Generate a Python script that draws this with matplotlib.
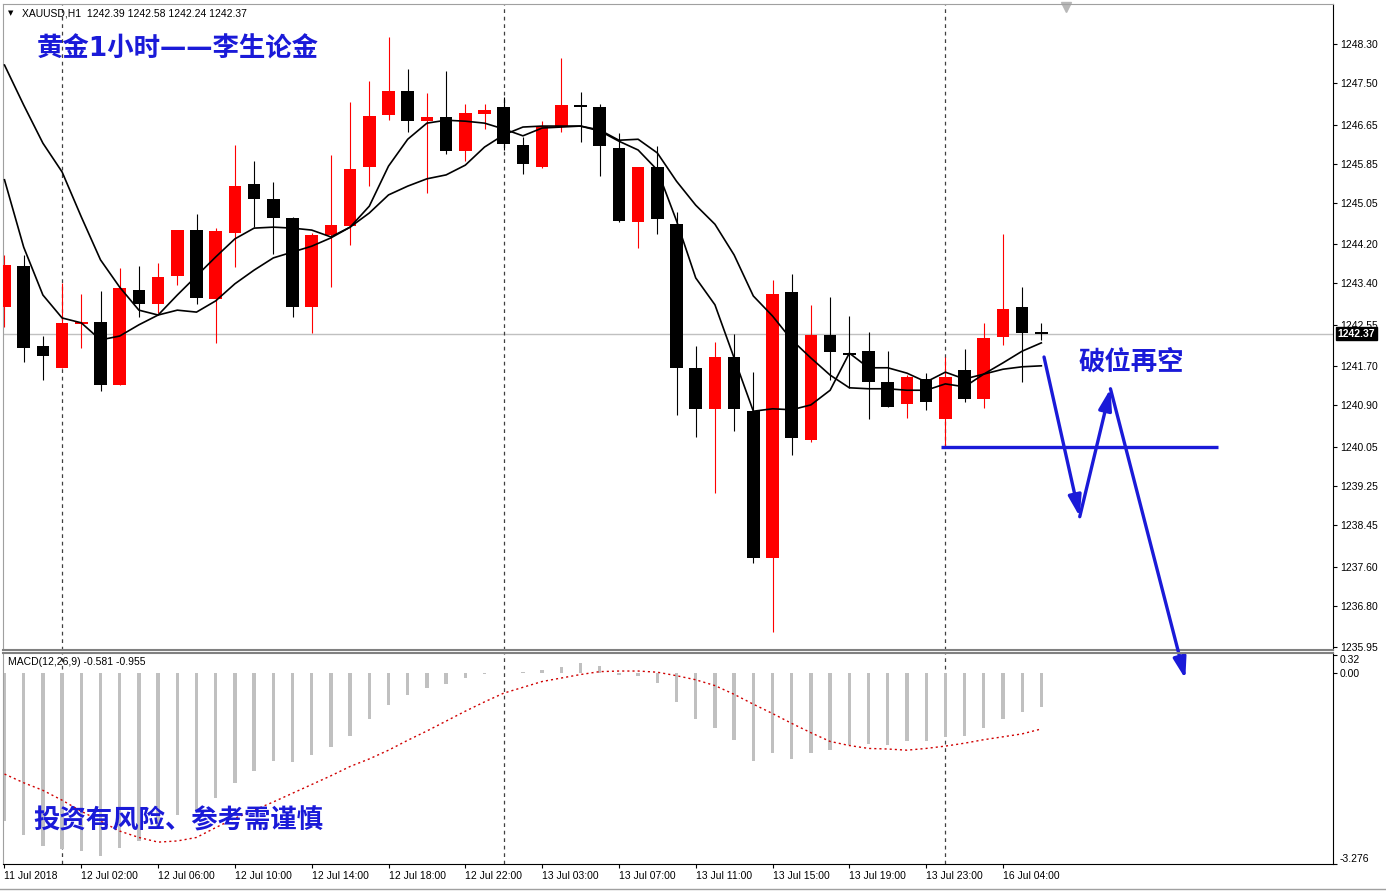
import matplotlib
matplotlib.use('Agg')
import matplotlib.pyplot as plt
import matplotlib.transforms as mtrans

W, H = 1386, 894

# H1 bars, 11 Jul 22:00 .. 16 Jul 06:00
opens = [1242.91, 1243.75, 1242.12, 1241.66, 1242.57, 1242.61, 1241.32, 1243.26, 1242.98, 1243.55,
         1244.49, 1243.08, 1244.43, 1245.43, 1245.13, 1244.74, 1242.91, 1244.39, 1244.57, 1245.78,
         1246.85, 1247.34, 1246.72, 1246.81, 1246.11, 1246.87, 1247.01, 1246.23, 1245.78, 1246.60,
         1247.05, 1247.01, 1246.17, 1244.65, 1245.78, 1244.61, 1241.66, 1240.83, 1241.89, 1240.78,
         1237.77, 1243.22, 1240.19, 1242.34, 1241.97, 1242.01, 1241.38, 1240.93, 1241.44, 1240.62,
         1241.62, 1241.03, 1242.30, 1242.91, 1242.39]
highs = [1243.98, 1243.98, 1242.32, 1243.41, 1243.18, 1243.24, 1243.71, 1243.75, 1243.82, 1244.49,
         1244.82, 1244.53, 1246.23, 1245.90, 1245.47, 1244.76, 1244.43, 1246.03, 1247.11, 1247.54,
         1248.44, 1247.79, 1247.30, 1247.75, 1247.07, 1247.07, 1247.21, 1246.40, 1246.72, 1248.01,
         1247.32, 1247.07, 1246.48, 1245.78, 1246.21, 1244.86, 1242.12, 1242.20, 1242.36, 1241.58,
         1243.47, 1243.59, 1242.95, 1243.12, 1242.73, 1242.40, 1242.01, 1241.52, 1241.56, 1241.89,
         1242.05, 1242.59, 1244.41, 1243.32, 1242.58]
lows = [1242.50, 1241.79, 1241.42, 1241.66, 1242.07, 1241.19, 1241.32, 1242.71, 1242.79, 1243.36,
        1242.98, 1242.18, 1243.73, 1244.55, 1244.00, 1242.71, 1242.38, 1243.32, 1244.18, 1245.39,
        1246.74, 1246.50, 1245.25, 1246.05, 1245.90, 1246.56, 1246.13, 1245.64, 1245.76, 1246.50,
        1246.29, 1245.60, 1244.65, 1244.12, 1244.41, 1240.70, 1240.25, 1239.10, 1240.37, 1237.67,
        1236.26, 1239.88, 1240.15, 1241.42, 1241.26, 1240.62, 1240.87, 1240.64, 1240.80, 1240.03,
        1240.97, 1240.85, 1242.14, 1241.38, 1242.24]
closes = [1243.77, 1242.07, 1241.91, 1242.59, 1242.61, 1241.32, 1243.30, 1242.98, 1243.53, 1244.49,
          1243.10, 1244.47, 1245.39, 1245.13, 1244.74, 1242.91, 1244.39, 1244.59, 1245.74, 1246.83,
          1247.34, 1246.72, 1246.81, 1246.11, 1246.89, 1246.95, 1246.25, 1245.84, 1246.62, 1247.05,
          1247.01, 1246.21, 1244.68, 1245.78, 1244.72, 1241.66, 1240.83, 1241.89, 1240.83, 1237.77,
          1243.18, 1240.23, 1242.34, 1241.99, 1241.93, 1241.38, 1240.87, 1241.48, 1240.97, 1241.48,
          1241.03, 1242.28, 1242.87, 1242.38, 1242.37]

# the two moving averages as drawn on the chart
ma_fast = [1245.52, 1244.14, 1243.16, 1242.69, 1242.59, 1242.24, 1242.32, 1242.55, 1242.75, 1243.16,
           1243.55, 1243.94, 1244.31, 1244.53, 1244.55, 1244.53, 1244.49, 1244.35, 1244.55, 1244.98,
           1245.80, 1246.35, 1246.68, 1246.74, 1246.72, 1246.68, 1246.56, 1246.42, 1246.58, 1246.60,
           1246.62, 1246.52, 1246.31, 1246.13, 1245.72, 1244.68, 1243.51, 1242.96, 1241.87, 1240.78,
           1240.83, 1240.81, 1240.91, 1241.21, 1241.97, 1241.67, 1241.67, 1241.56, 1241.38, 1241.58,
           1241.44, 1241.54, 1241.77, 1242.01, 1242.18]
ma_slow = [1247.87, 1247.05, 1246.27, 1245.68, 1244.76, 1243.88, 1243.32, 1242.85, 1242.75, 1242.85,
           1242.81, 1243.04, 1243.39, 1243.67, 1243.92, 1244.04, 1244.16, 1244.33, 1244.55, 1244.84,
           1245.21, 1245.39, 1245.54, 1245.62, 1245.82, 1246.19, 1246.44, 1246.60, 1246.62, 1246.62,
           1246.62, 1246.54, 1246.33, 1246.35, 1246.07, 1245.49, 1245.00, 1244.61, 1243.98, 1243.14,
           1242.73, 1242.24, 1241.87, 1241.52, 1241.26, 1241.24, 1241.24, 1241.21, 1241.21, 1241.34,
           1241.28, 1241.54, 1241.64, 1241.69, 1241.71]

macd_hist = [-2.53, -2.78, -2.97, -3.02, -3.05, -3.14, -3.00, -2.88, -2.65, -2.44,
             -2.35, -2.15, -1.89, -1.68, -1.51, -1.53, -1.41, -1.27, -1.07, -0.79,
             -0.55, -0.37, -0.25, -0.18, -0.08, -0.01, 0.00, 0.02, 0.05, 0.11,
             0.18, 0.13, -0.03, -0.05, -0.16, -0.49, -0.79, -0.94, -1.14, -1.51,
             -1.37, -1.47, -1.37, -1.31, -1.23, -1.21, -1.23, -1.17, -1.17, -1.10,
             -1.07, -0.94, -0.78, -0.67, -0.581]
macd_signal = [-1.73, -1.88, -2.01, -2.18, -2.37, -2.54, -2.71, -2.82, -2.90, -2.88,
               -2.82, -2.65, -2.49, -2.35, -2.21, -2.06, -1.91, -1.76, -1.60, -1.47,
               -1.32, -1.15, -0.99, -0.82, -0.65, -0.49, -0.34, -0.24, -0.14, -0.08,
               -0.02, 0.03, 0.04, 0.04, 0.02, -0.04, -0.11, -0.21, -0.36, -0.53,
               -0.69, -0.86, -1.02, -1.17, -1.24, -1.29, -1.30, -1.32, -1.29, -1.25,
               -1.20, -1.14, -1.09, -1.04, -0.955]

time_idx = [0, 4, 8, 12, 16, 20, 24, 28, 32, 36, 40, 44, 48, 52]
time_labels = ['11 Jul 2018', '12 Jul 02:00', '12 Jul 06:00', '12 Jul 10:00', '12 Jul 14:00',
               '12 Jul 18:00', '12 Jul 22:00', '13 Jul 03:00', '13 Jul 07:00', '13 Jul 11:00',
               '13 Jul 15:00', '13 Jul 19:00', '13 Jul 23:00', '16 Jul 04:00']
day_sep_idx = [3, 26, 49]
price_ticks = [1248.30, 1247.50, 1246.65, 1245.85, 1245.05, 1244.20, 1243.40, 1242.55,
               1241.70, 1240.90, 1240.05, 1239.25, 1238.45, 1237.60, 1236.80, 1235.95]
macd_ticks = [0.32, 0.00, -3.276]
last_price = 1242.37

# hand drawn analysis: support line and zig-zag arrow path
support_level = 1240.05
support_span = (48.8, 63.2)
path_x = [54.14, 56.0, 57.6, 61.5]
path_y = [1241.89, 1238.62, 1241.24, 1235.30]

blue = '#1a1ad8'
axfont = 'Liberation Sans'
cjk = ['Noto Sans CJK SC', 'DejaVu Sans']
cjk_title = ['DejaVu Sans', 'Noto Sans CJK SC']

fig = plt.figure(figsize=(W / 100, H / 100), dpi=100)
ax = fig.add_axes([3 / W, 1 - 650 / H, 1330 / W, 646 / H])
ax2 = fig.add_axes([3 / W, 1 - 864 / H, 1330 / W, 211 / H])
ax2.patch.set_alpha(0)

n = len(opens)
xs = list(range(n))

# candles
for i in xs:
    o, h, l, c = opens[i], highs[i], lows[i], closes[i]
    col = '#ff0000' if c > o else 'black'
    ax.vlines(i, l, h, color=col, lw=0.8, zorder=2)
    body = max(abs(c - o), 0.03)
    ax.bar(i, body, bottom=min(o, c), width=0.66, color=col, lw=0, zorder=3)

ax.plot(xs, ma_fast, color='black', lw=1.2, zorder=4)
ax.plot(xs, ma_slow, color='black', lw=1.2, zorder=4)
ax.axhline(last_price, color='#c0c0c0', lw=1, zorder=1)

for d in day_sep_idx:
    ax.axvline(d, color='#404040', ls=(0, (3, 3)), lw=0.9, zorder=1)
    ax2.axvline(d, color='#404040', ls=(0, (3, 3)), lw=0.9, zorder=1)

ax.set_xlim(-0.078, 69.19)
ax.set_ylim(1235.89, 1249.12)
ax.set_xticks([])
ax.yaxis.tick_right()
ax.set_yticks(price_ticks)
ax.set_yticklabels(['%.2f' % t for t in price_ticks], fontfamily=axfont, fontsize=7.5)
ax.tick_params(axis='y', direction='out', length=3, pad=2, colors='black')

# current price tag
tr = mtrans.blended_transform_factory(ax.transAxes, ax.transData)
ax.text(1.0035, last_price, '%.2f' % last_price, transform=tr, color='white', fontsize=7.5,
        fontfamily=axfont, fontweight='bold', va='center', ha='left', zorder=10,
        bbox=dict(boxstyle='square,pad=0.15', fc='black', ec='black'))

# shift marker
ax.plot([(1066 - 3) / 1330], [0.995], marker='v', color='#b8b8b8', ms=7,
        transform=ax.transAxes, clip_on=False)

# support line and arrows
ax.hlines(support_level, support_span[0], support_span[1], color=blue, lw=2.4, zorder=6)
for k in range(len(path_x) - 1):
    ann = ax.annotate('', xy=(path_x[k + 1], path_y[k + 1]), xytext=(path_x[k], path_y[k]),
                      arrowprops=dict(arrowstyle='-|>,head_length=0.9,head_width=0.28',
                                      color=blue, lw=2.4, mutation_scale=14,
                                      shrinkA=0, shrinkB=0),
                      annotation_clip=False, zorder=20)
    ann.arrow_patch.set_clip_on(False)

for s in ['left', 'top']:
    ax.spines[s].set_color('#a0a0a0')
ax.spines['bottom'].set_color('#808080')
ax.spines['bottom'].set_linewidth(1.5)
ax.spines['right'].set_color('black')

# MACD panel
ax2.bar(xs, macd_hist, width=0.17, color='#c0c0c0', lw=0, zorder=2)
ax2.plot(xs, macd_signal, color='#d00000', ls=(0, (1.5, 2.2)), lw=1, zorder=3)
ax2.set_xlim(-0.078, 69.19)
ax2.set_ylim(-3.276, 0.35)
ax2.yaxis.tick_right()
ax2.set_yticks(macd_ticks)
ax2.set_yticklabels(['0.32', '0.00', '-3.276'], fontfamily=axfont, fontsize=7.5)
lbls = ax2.get_yticklabels()
lbls[0].set_va('top')
lbls[2].set_va('bottom')
ax2.tick_params(axis='y', direction='out', length=3, pad=2)
ax2.set_xticks(time_idx)
ax2.set_xticklabels(time_labels, fontfamily=axfont, fontsize=7.5, ha='left')
ax2.tick_params(axis='x', direction='out', length=3, pad=2)
ax2.spines['top'].set_color('#808080')
ax2.spines['top'].set_linewidth(1.5)
ax2.spines['left'].set_color('#a0a0a0')
ax2.text(5 / 1330, 0.955, 'MACD(12,26,9) -0.581 -0.955', transform=ax2.transAxes,
         fontfamily=axfont, fontsize=7.5, va='center', ha='left')

# header and annotations
fig.text(8 / W, 1 - 13 / H, '\u25bc', fontsize=5, va='center', ha='left', color='black')
fig.text(22 / W, 1 - 13 / H, 'XAUUSD,H1  1242.39 1242.58 1242.24 1242.37',
         fontfamily=axfont, fontsize=7.5, va='center', ha='left')
fig.text(37 / W, 1 - 50 / H, '黄金1小时——李生论金', family=cjk_title, fontsize=19,
         fontweight='bold', color=blue, va='center', ha='left')
fig.text(1079 / W, 1 - 362 / H, '破位再空', family=cjk, fontsize=19, fontweight='bold',
         color=blue, va='center', ha='left')
fig.text(33 / W, 1 - 821 / H, '投资有风险、参考需谨慎', family=cjk, fontsize=19,
         fontweight='bold', color=blue, va='center', ha='left', zorder=10)

# tab bar at the bottom
fig.add_artist(plt.Line2D([0, 1], [1 - 889 / H, 1 - 889 / H], color='#a0a0a0', lw=1))

fig.savefig('out.png', dpi=100)
